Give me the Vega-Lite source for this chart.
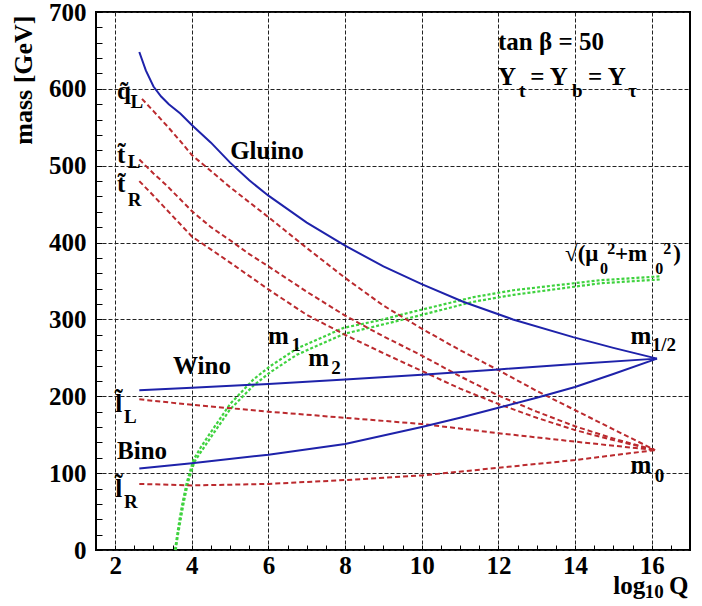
{
  "$schema": "https://vega.github.io/schema/vega-lite/v6.json",
  "width": 594,
  "height": 538,
  "autosize": "none",
  "padding": {"left": 96, "top": 12, "right": 12, "bottom": 56},
  "background": "white",
  "config": {
    "view": {"stroke": "black", "strokeWidth": 2},
    "font": "'Liberation Serif', 'DejaVu Serif', serif"
  },
  "datasets": {
    "curves": [
      {"s": "gluino", "k": "blue", "x": 2.63, "y": 648},
      {"s": "gluino", "k": "blue", "x": 2.8, "y": 624},
      {"s": "gluino", "k": "blue", "x": 3.0, "y": 603},
      {"s": "gluino", "k": "blue", "x": 3.2, "y": 590},
      {"s": "gluino", "k": "blue", "x": 3.4, "y": 580},
      {"s": "gluino", "k": "blue", "x": 3.7, "y": 568},
      {"s": "gluino", "k": "blue", "x": 4.0, "y": 553},
      {"s": "gluino", "k": "blue", "x": 4.5, "y": 530},
      {"s": "gluino", "k": "blue", "x": 5.0, "y": 504},
      {"s": "gluino", "k": "blue", "x": 5.5, "y": 481},
      {"s": "gluino", "k": "blue", "x": 6.0, "y": 461},
      {"s": "gluino", "k": "blue", "x": 7.0, "y": 426},
      {"s": "gluino", "k": "blue", "x": 8.0, "y": 396},
      {"s": "gluino", "k": "blue", "x": 9.0, "y": 369},
      {"s": "gluino", "k": "blue", "x": 10.0, "y": 346},
      {"s": "gluino", "k": "blue", "x": 11.08, "y": 323},
      {"s": "gluino", "k": "blue", "x": 12.38, "y": 300},
      {"s": "gluino", "k": "blue", "x": 13.95, "y": 277},
      {"s": "gluino", "k": "blue", "x": 15.0, "y": 263},
      {"s": "gluino", "k": "blue", "x": 16.14, "y": 249},
      {"s": "wino", "k": "blue", "x": 2.63, "y": 208},
      {"s": "wino", "k": "blue", "x": 4.0, "y": 211},
      {"s": "wino", "k": "blue", "x": 6.0, "y": 216},
      {"s": "wino", "k": "blue", "x": 8.0, "y": 222},
      {"s": "wino", "k": "blue", "x": 10.0, "y": 228},
      {"s": "wino", "k": "blue", "x": 12.0, "y": 235},
      {"s": "wino", "k": "blue", "x": 14.0, "y": 242},
      {"s": "wino", "k": "blue", "x": 16.14, "y": 249},
      {"s": "bino", "k": "blue", "x": 2.63, "y": 106},
      {"s": "bino", "k": "blue", "x": 4.0, "y": 113},
      {"s": "bino", "k": "blue", "x": 6.0, "y": 124},
      {"s": "bino", "k": "blue", "x": 8.0, "y": 138},
      {"s": "bino", "k": "blue", "x": 10.0, "y": 160},
      {"s": "bino", "k": "blue", "x": 11.0, "y": 172},
      {"s": "bino", "k": "blue", "x": 12.0, "y": 185},
      {"s": "bino", "k": "blue", "x": 13.0, "y": 198},
      {"s": "bino", "k": "blue", "x": 14.0, "y": 212},
      {"s": "bino", "k": "blue", "x": 15.0, "y": 229},
      {"s": "bino", "k": "blue", "x": 16.14, "y": 249},
      {"s": "qL", "k": "red", "x": 2.7, "y": 587},
      {"s": "qL", "k": "red", "x": 3.0, "y": 571},
      {"s": "qL", "k": "red", "x": 3.35, "y": 552},
      {"s": "qL", "k": "red", "x": 3.7, "y": 532},
      {"s": "qL", "k": "red", "x": 4.0, "y": 514},
      {"s": "qL", "k": "red", "x": 4.5, "y": 493},
      {"s": "qL", "k": "red", "x": 5.0, "y": 472},
      {"s": "qL", "k": "red", "x": 6.0, "y": 433},
      {"s": "qL", "k": "red", "x": 7.0, "y": 393},
      {"s": "qL", "k": "red", "x": 8.0, "y": 354},
      {"s": "qL", "k": "red", "x": 9.0, "y": 318},
      {"s": "qL", "k": "red", "x": 10.0, "y": 288},
      {"s": "qL", "k": "red", "x": 11.0, "y": 260},
      {"s": "qL", "k": "red", "x": 12.0, "y": 234},
      {"s": "qL", "k": "red", "x": 13.0, "y": 207},
      {"s": "qL", "k": "red", "x": 14.0, "y": 182},
      {"s": "qL", "k": "red", "x": 15.0, "y": 157},
      {"s": "qL", "k": "red", "x": 16.09, "y": 130},
      {"s": "tL", "k": "red", "x": 2.63, "y": 508},
      {"s": "tL", "k": "red", "x": 3.0, "y": 490},
      {"s": "tL", "k": "red", "x": 3.35, "y": 474},
      {"s": "tL", "k": "red", "x": 4.0, "y": 441},
      {"s": "tL", "k": "red", "x": 4.5, "y": 420},
      {"s": "tL", "k": "red", "x": 5.0, "y": 403},
      {"s": "tL", "k": "red", "x": 5.5, "y": 385},
      {"s": "tL", "k": "red", "x": 6.0, "y": 369},
      {"s": "tL", "k": "red", "x": 7.0, "y": 336},
      {"s": "tL", "k": "red", "x": 8.0, "y": 305},
      {"s": "tL", "k": "red", "x": 9.0, "y": 278},
      {"s": "tL", "k": "red", "x": 10.0, "y": 253},
      {"s": "tL", "k": "red", "x": 11.0, "y": 226},
      {"s": "tL", "k": "red", "x": 12.0, "y": 201},
      {"s": "tL", "k": "red", "x": 13.0, "y": 180},
      {"s": "tL", "k": "red", "x": 14.0, "y": 161},
      {"s": "tL", "k": "red", "x": 15.0, "y": 145},
      {"s": "tL", "k": "red", "x": 16.09, "y": 130},
      {"s": "tR", "k": "red", "x": 2.63, "y": 480},
      {"s": "tR", "k": "red", "x": 3.0, "y": 461},
      {"s": "tR", "k": "red", "x": 4.0, "y": 408},
      {"s": "tR", "k": "red", "x": 5.0, "y": 374},
      {"s": "tR", "k": "red", "x": 6.0, "y": 339},
      {"s": "tR", "k": "red", "x": 7.0, "y": 306},
      {"s": "tR", "k": "red", "x": 8.0, "y": 280},
      {"s": "tR", "k": "red", "x": 9.0, "y": 256},
      {"s": "tR", "k": "red", "x": 10.0, "y": 233},
      {"s": "tR", "k": "red", "x": 11.0, "y": 210},
      {"s": "tR", "k": "red", "x": 12.0, "y": 190},
      {"s": "tR", "k": "red", "x": 13.0, "y": 172},
      {"s": "tR", "k": "red", "x": 14.0, "y": 156},
      {"s": "tR", "k": "red", "x": 15.0, "y": 143},
      {"s": "tR", "k": "red", "x": 16.09, "y": 130},
      {"s": "lL", "k": "red", "x": 2.63, "y": 196},
      {"s": "lL", "k": "red", "x": 4.0, "y": 189},
      {"s": "lL", "k": "red", "x": 6.0, "y": 180},
      {"s": "lL", "k": "red", "x": 8.0, "y": 172},
      {"s": "lL", "k": "red", "x": 10.0, "y": 164},
      {"s": "lL", "k": "red", "x": 12.0, "y": 152},
      {"s": "lL", "k": "red", "x": 14.0, "y": 141},
      {"s": "lL", "k": "red", "x": 16.09, "y": 130},
      {"s": "lR", "k": "red", "x": 2.63, "y": 86},
      {"s": "lR", "k": "red", "x": 4.0, "y": 84},
      {"s": "lR", "k": "red", "x": 6.0, "y": 86},
      {"s": "lR", "k": "red", "x": 8.0, "y": 91},
      {"s": "lR", "k": "red", "x": 10.0, "y": 97},
      {"s": "lR", "k": "red", "x": 12.0, "y": 107},
      {"s": "lR", "k": "red", "x": 14.0, "y": 117},
      {"s": "lR", "k": "red", "x": 16.09, "y": 130},
      {"s": "m1", "k": "green", "x": 3.56, "y": 0},
      {"s": "m1", "k": "green", "x": 3.62, "y": 20},
      {"s": "m1", "k": "green", "x": 3.68, "y": 40},
      {"s": "m1", "k": "green", "x": 3.76, "y": 62},
      {"s": "m1", "k": "green", "x": 3.87, "y": 88},
      {"s": "m1", "k": "green", "x": 4.04, "y": 117},
      {"s": "m1", "k": "green", "x": 4.25, "y": 135},
      {"s": "m1", "k": "green", "x": 4.48, "y": 152},
      {"s": "m1", "k": "green", "x": 5.0, "y": 190},
      {"s": "m1", "k": "green", "x": 5.61, "y": 222},
      {"s": "m1", "k": "green", "x": 6.04, "y": 239},
      {"s": "m1", "k": "green", "x": 6.74, "y": 262},
      {"s": "m1", "k": "green", "x": 7.96, "y": 289},
      {"s": "m1", "k": "green", "x": 9.0, "y": 300},
      {"s": "m1", "k": "green", "x": 9.61, "y": 308},
      {"s": "m1", "k": "green", "x": 11.35, "y": 329},
      {"s": "m1", "k": "green", "x": 12.39, "y": 338},
      {"s": "m1", "k": "green", "x": 14.65, "y": 351},
      {"s": "m1", "k": "green", "x": 16.22, "y": 356},
      {"s": "m2", "k": "green", "x": 3.58, "y": 0},
      {"s": "m2", "k": "green", "x": 3.64, "y": 20},
      {"s": "m2", "k": "green", "x": 3.71, "y": 40},
      {"s": "m2", "k": "green", "x": 3.79, "y": 62},
      {"s": "m2", "k": "green", "x": 3.9, "y": 88},
      {"s": "m2", "k": "green", "x": 4.07, "y": 115},
      {"s": "m2", "k": "green", "x": 4.5, "y": 147},
      {"s": "m2", "k": "green", "x": 5.0, "y": 183},
      {"s": "m2", "k": "green", "x": 5.61, "y": 214},
      {"s": "m2", "k": "green", "x": 6.04, "y": 231},
      {"s": "m2", "k": "green", "x": 6.74, "y": 254},
      {"s": "m2", "k": "green", "x": 7.96, "y": 281},
      {"s": "m2", "k": "green", "x": 9.61, "y": 301},
      {"s": "m2", "k": "green", "x": 11.35, "y": 323},
      {"s": "m2", "k": "green", "x": 12.39, "y": 332},
      {"s": "m2", "k": "green", "x": 14.65, "y": 347},
      {"s": "m2", "k": "green", "x": 16.22, "y": 352}
    ],
    "labels": [
      {"t": "Gluino", "k": "main", "x": 5.0, "y": 519},
      {"t": "Wino", "k": "main", "x": 3.51, "y": 240},
      {"t": "Bino", "k": "main", "x": 2.05, "y": 129},
      {"t": "tan β = 50", "k": "main", "x": 11.99, "y": 661},
      {"t": "Y", "k": "main", "x": 11.99, "y": 616},
      {"t": "= Y", "k": "main", "x": 12.83, "y": 616},
      {"t": "= Y", "k": "main", "x": 14.34, "y": 616},
      {"t": "q̃", "k": "main", "x": 2.05, "y": 597},
      {"t": "t̃", "k": "main", "x": 2.05, "y": 514},
      {"t": "t̃", "k": "main", "x": 2.05, "y": 476},
      {"t": "l̃", "k": "main", "x": 2.0, "y": 190},
      {"t": "l̃", "k": "main", "x": 2.0, "y": 80},
      {"t": "m", "k": "main", "x": 5.99, "y": 279},
      {"t": "m", "k": "main", "x": 7.04, "y": 250},
      {"t": "m", "k": "main", "x": 15.45, "y": 279},
      {"t": "m", "k": "main", "x": 15.45, "y": 110},
      {"t": "log", "k": "main", "x": 15.0, "y": -47},
      {"t": "Q", "k": "main", "x": 16.45, "y": -47},
      {"t": "L", "k": "sub", "x": 2.4, "y": 583},
      {"t": "L", "k": "sub", "x": 2.33, "y": 505},
      {"t": "R", "k": "sub", "x": 2.33, "y": 456},
      {"t": "L", "k": "sub", "x": 2.23, "y": 173},
      {"t": "R", "k": "sub", "x": 2.23, "y": 63},
      {"t": "1", "k": "sub", "x": 6.6, "y": 267},
      {"t": "2", "k": "sub", "x": 7.64, "y": 237},
      {"t": "1/2", "k": "sub", "x": 16.0, "y": 267},
      {"t": "0", "k": "sub", "x": 16.08, "y": 96},
      {"t": "10", "k": "sub", "x": 15.82, "y": -55},
      {"t": "t", "k": "sub", "x": 12.54, "y": 597},
      {"t": "b", "k": "sub", "x": 13.92, "y": 597},
      {"t": "τ", "k": "sub", "x": 15.38, "y": 597},
      {"t": "√(μ", "k": "fmain", "x": 13.74, "y": 385},
      {"t": "+m", "k": "fmain", "x": 15.04, "y": 385},
      {"t": ")", "k": "fmain", "x": 16.56, "y": 385},
      {"t": "0", "k": "fsub", "x": 14.65, "y": 365},
      {"t": "2", "k": "fsub", "x": 14.84, "y": 392},
      {"t": "0", "k": "fsub", "x": 16.09, "y": 365},
      {"t": "2", "k": "fsub", "x": 16.3, "y": 392}
    ]
  },
  "encoding": {
    "x": {
      "field": "x",
      "type": "quantitative",
      "scale": {"domain": [1.5, 17], "nice": false, "zero": false},
      "axis": {
        "title": null,
        "values": [1.5, 2, 2.5, 3, 3.5, 4, 4.5, 5, 5.5, 6, 6.5, 7, 7.5, 8, 8.5, 9, 9.5, 10, 10.5, 11, 11.5, 12, 12.5, 13, 13.5, 14, 14.5, 15, 15.5, 16, 16.5, 17],
        "labelExpr": "(datum.value % 2 === 0 && datum.value >= 2 && datum.value <= 16) ? format(datum.value, 'd') : ''",
        "labelFont": "'Liberation Serif', 'DejaVu Serif', serif",
        "labelFontWeight": "bold",
        "labelFontSize": 25,
        "labelColor": "black",
        "labelPadding": 8,
        "labelFlush": false,
        "labelOverlap": false,
        "labelBound": false,
        "domain": false,
        "tickSize": -5,
        "tickColor": "black",
        "tickWidth": 1,
        "gridColor": "#222",
        "gridDash": [4, 2],
        "gridWidth": 1,
        "gridOpacity": {"condition": {"test": "datum.value % 2 === 0 && datum.value >= 2 && datum.value <= 16", "value": 1}, "value": 0}
      }
    },
    "y": {
      "field": "y",
      "type": "quantitative",
      "scale": {"domain": [0, 700], "nice": false},
      "axis": {
        "title": "mass [GeV]",
        "titleFont": "'Liberation Serif', 'DejaVu Serif', serif",
        "titleFontWeight": "bold",
        "titleFontSize": 26,
        "titleColor": "black",
        "titleAngle": 270,
        "titleAlign": "right",
        "titleBaseline": "alphabetic",
        "titleX": -65,
        "titleY": 3,
        "values": [0, 20, 40, 60, 80, 100, 120, 140, 160, 180, 200, 220, 240, 260, 280, 300, 320, 340, 360, 380, 400, 420, 440, 460, 480, 500, 520, 540, 560, 580, 600, 620, 640, 660, 680, 700],
        "labelExpr": "datum.value % 100 === 0 ? datum.label : ''",
        "labelFont": "'Liberation Serif', 'DejaVu Serif', serif",
        "labelFontWeight": "bold",
        "labelFontSize": 25,
        "labelColor": "black",
        "labelPadding": 16,
        "labelFlush": false,
        "labelOverlap": false,
        "labelBound": false,
        "domain": false,
        "tickSize": -6,
        "tickColor": "black",
        "tickWidth": 1,
        "gridColor": "#222",
        "gridDash": [4, 2],
        "gridWidth": 1,
        "gridOpacity": {"condition": {"test": "datum.value % 100 === 0", "value": 1}, "value": 0}
      }
    }
  },
  "layer": [
    {
      "data": {"name": "curves"},
      "transform": [{"filter": "datum.k === 'green'"}],
      "mark": {"type": "line", "color": "#3fd23f", "strokeWidth": 2.2, "strokeDash": [3, 2]},
      "encoding": {"detail": {"field": "s"}}
    },
    {
      "data": {"name": "curves"},
      "transform": [{"filter": "datum.k === 'red'"}],
      "mark": {"type": "line", "color": "#bb2a2e", "strokeWidth": 2, "strokeDash": [5, 3]},
      "encoding": {"detail": {"field": "s"}}
    },
    {
      "data": {"name": "curves"},
      "transform": [{"filter": "datum.k === 'blue'"}],
      "mark": {"type": "line", "color": "#1e22aa", "strokeWidth": 2},
      "encoding": {"detail": {"field": "s"}}
    },
    {
      "data": {"name": "labels"},
      "transform": [{"filter": "datum.k === 'main'"}],
      "mark": {"type": "text", "align": "left", "baseline": "middle", "font": "'Liberation Serif', 'DejaVu Serif', serif", "fontWeight": "bold", "fontSize": 25, "color": "black"},
      "encoding": {"text": {"field": "t"}}
    },
    {
      "data": {"name": "labels"},
      "transform": [{"filter": "datum.k === 'sub'"}],
      "mark": {"type": "text", "align": "left", "baseline": "middle", "font": "'Liberation Serif', 'DejaVu Serif', serif", "fontWeight": "bold", "fontSize": 19, "color": "black"},
      "encoding": {"text": {"field": "t"}}
    },
    {
      "data": {"name": "labels"},
      "transform": [{"filter": "datum.k === 'fmain'"}],
      "mark": {"type": "text", "align": "left", "baseline": "middle", "font": "'Liberation Serif', 'DejaVu Serif', serif", "fontWeight": "bold", "fontSize": 23, "color": "black"},
      "encoding": {"text": {"field": "t"}}
    },
    {
      "data": {"name": "labels"},
      "transform": [{"filter": "datum.k === 'fsub'"}],
      "mark": {"type": "text", "align": "left", "baseline": "middle", "font": "'Liberation Serif', 'DejaVu Serif', serif", "fontWeight": "bold", "fontSize": 16, "color": "black"},
      "encoding": {"text": {"field": "t"}}
    }
  ]
}
